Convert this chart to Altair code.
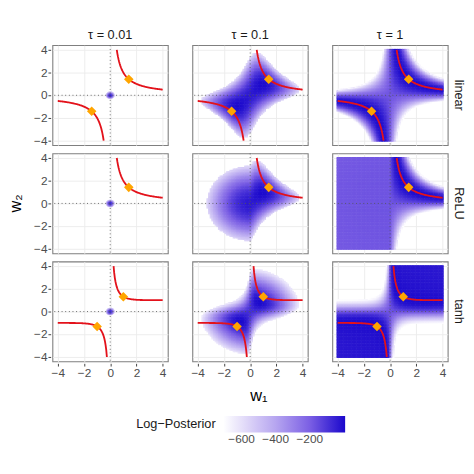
import numpy as np
import pandas as pd
import altair as alt

# ---- chart values -------------------------------------------------------
taus = [0.01, 0.1, 1.0]
tau_labels = ["τ = 0.01", "τ = 0.1", "τ = 1"]
activations = ["linear", "ReLU", "tanh"]
curve_targets = [2.0, 2.0, 1.0]          # w2 * f(w1) = target (red curves)
diamond_w1 = [[1.414, -1.414], [1.414], [1.0, -1.0]]
diamond_w2 = [[1.414, -1.414], [1.414], [1.313, -1.313]]
legend_ticks = [-600, -400, -200]
color_stops = [-707, -400, -200, 8]
color_range = ["#ffffff", "#b6a5f0", "#7b5fe4", "#1a08cc"]
axis_ticks = [-4, -2, 0, 2, 4]

# model constants used to evaluate the log-posterior surface
lik_scale = [44.0, 44.0, 298.0]
underflow_limit = -711.0

PW, PH = 127, 110


def act_fn(name, w):
    if name == "linear":
        return w
    if name == "ReLU":
        return np.maximum(w, 0.0)
    return np.tanh(w)


def log_post(act, c, K, tau, W1, W2):
    z = W2 * act_fn(act, W1)
    if act == "tanh":
        ll = -K * (np.tanh(z) - np.tanh(c)) ** 2
    else:
        ll = -K * (z - c) ** 2
    return ll - (W1 ** 2 + W2 ** 2) / (2 * tau ** 2) - np.log(2 * np.pi * tau ** 2)


rows = []
for ai, act in enumerate(activations):
    c = curve_targets[ai]
    K = lik_scale[ai]
    for ti, tau in enumerate(taus):
        lab = tau_labels[ti]
        if tau < 0.05:
            fg = np.arange(-0.1, 0.1 + 1e-9, 0.001)
        else:
            fg = np.arange(-4, 4 + 1e-9, 0.01)
        F1, F2 = np.meshgrid(fg, fg)
        lpf = log_post(act, c, K, tau, F1, F2)
        m = lpf.max()
        logZ = m + np.log(np.exp(lpf - m).sum() * (fg[1] - fg[0]) ** 2)
        if tau < 0.05:
            step = 0.03125
            g = np.round(np.arange(-0.5, 0.5 + 1e-9, step), 5)
        else:
            step = 0.125
            g = np.round(np.arange(-4, 4 + 1e-9, step), 5)
        W1, W2 = np.meshgrid(g, g)
        lp = log_post(act, c, K, tau, W1, W2)
        keep = lp >= underflow_limit
        v = lp - logZ
        for a, b, val in zip(W1[keep], W2[keep], v[keep]):
            rows.append(dict(kind="cell", act=act, tau=lab, w1=a, w2=b, v=val,
                             h=step * 0.68, branch=0))
        lo = np.arctanh(0.25) if act == "tanh" else c / 4.0
        xs = np.linspace(lo, 4.0, 80)
        ys = c / act_fn(act, xs)
        for a, b in zip(xs, ys):
            rows.append(dict(kind="curve", act=act, tau=lab, w1=a, w2=b, v=0, h=0, branch=1))
        if act != "ReLU":
            for a, b in zip(xs, ys):
                rows.append(dict(kind="curve", act=act, tau=lab, w1=-a, w2=-b, v=0, h=0, branch=2))
        for a, b in zip(diamond_w1[ai], diamond_w2[ai]):
            rows.append(dict(kind="diamond", act=act, tau=lab, w1=a, w2=b, v=0, h=0, branch=0))
        rows.append(dict(kind="origin", act=act, tau=lab, w1=0.0, w2=0.0, v=0, h=0, branch=0))

df = pd.DataFrame(rows)

FONT = "Liberation Sans"
xscale = alt.Scale(domain=[-4.4, 4.4], nice=False, zero=False)
yscale = alt.Scale(domain=[-4.4, 4.4], nice=False, zero=False)
ax = alt.Axis(title=None, values=axis_ticks, grid=True, gridColor="#ebebeb",
              domain=False, tickColor="#333333", tickSize=3,
              labelColor="#4d4d4d", labelFontSize=13, labelFont=FONT, labelPadding=1)

heat = alt.Chart().transform_filter(alt.datum.kind == "cell").transform_calculate(
    xa="datum.w1 - datum.h", xb="datum.w1 + datum.h",
    ya="datum.w2 - datum.h", yb="datum.w2 + datum.h",
).mark_rect(strokeWidth=0).encode(
    x=alt.X("xa:Q", scale=xscale, axis=ax),
    x2="xb:Q",
    y=alt.Y("ya:Q", scale=yscale, axis=ax),
    y2="yb:Q",
    color=alt.Color(
        "v:Q",
        scale=alt.Scale(domain=color_stops, range=color_range, interpolate="rgb", clamp=True),
        legend=alt.Legend(
            title="Log−Posterior", orient="none", legendX=92, legendY=408,
            direction="horizontal", gradientLength=134, gradientThickness=18,
            titleOrient="left", values=legend_ticks, titleFontSize=14,
            titleFontWeight="normal", titleFont=FONT, titleColor="#1a1a1a",
            labelFontSize=13, labelFont=FONT, labelColor="#4d4d4d",
            titleBaseline="middle", titlePadding=8,
        ),
    ),
)

hline = alt.Chart().transform_filter(alt.datum.kind == "origin").mark_rule(
    color="#555555", strokeDash=[1, 3], strokeWidth=1
).encode(y=alt.Y("w2:Q", scale=yscale, axis=ax))

vline = alt.Chart().transform_filter(alt.datum.kind == "origin").mark_rule(
    color="#555555", strokeDash=[1, 3], strokeWidth=1
).encode(x=alt.X("w1:Q", scale=xscale, axis=ax))

curve = alt.Chart().transform_filter(alt.datum.kind == "curve").mark_line(
    color="#e3121b", strokeWidth=2
).encode(
    x=alt.X("w1:Q", scale=xscale, axis=ax),
    y=alt.Y("w2:Q", scale=yscale, axis=ax),
    detail="branch:N",
    order="w1:Q",
)

dia = alt.Chart().transform_filter(alt.datum.kind == "diamond").mark_point(
    shape="diamond", filled=True, color="#ffa500", size=110, opacity=1
).encode(
    x=alt.X("w1:Q", scale=xscale, axis=ax),
    y=alt.Y("w2:Q", scale=yscale, axis=ax),
)

rowlab = alt.Chart().transform_filter(
    (alt.datum.kind == "origin") & (alt.datum.tau == tau_labels[-1])
).mark_text(angle=90, fontSize=14, font=FONT, color="#1a1a1a", baseline="middle", align="center").encode(
    x=alt.value(PW + 12), y=alt.value(PH / 2), text="act:N"
)

layered = alt.layer(heat, hline, vline, curve, dia, rowlab, data=df).properties(width=PW, height=PH)

chart = layered.facet(
    row=alt.Row("act:N", sort=activations, header=alt.Header(
        title="w₂", titleOrient="left", labels=False,
        titleFontSize=18, titleFont=FONT, titleFontWeight="normal", titleColor="#000000",
        titlePadding=0,
    )),
    column=alt.Column("tau:N", sort=tau_labels, header=alt.Header(
        title="w₁", titleOrient="bottom", labelOrient="top",
        labelFontSize=14, labelFont=FONT, labelColor="#1a1a1a", labelPadding=2,
        titleFontSize=18, titleFont=FONT, titleFontWeight="normal", titleColor="#000000",
        titlePadding=0,
    )),
    spacing=5,
).configure_view(stroke="#7f7f7f", strokeWidth=1.2).properties(padding=0)

chart.save("out.html", embed_options={"renderer": "svg", "actions": False})
